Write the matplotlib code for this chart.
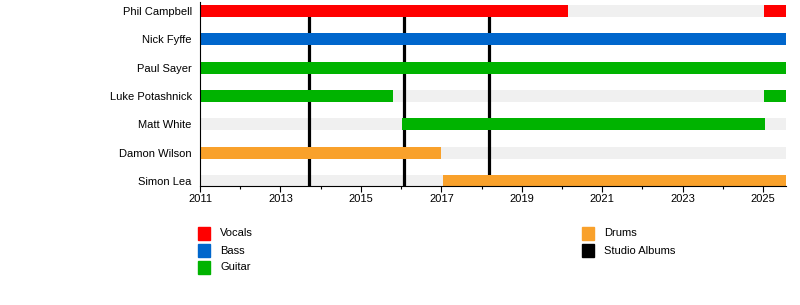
import matplotlib.pyplot as plt
from matplotlib.patches import Rectangle

plt.rcParams['font.family'] = ['Liberation Sans', 'DejaVu Sans']

# band members, top to bottom
members = ["Phil Campbell", "Nick Fyffe", "Paul Sayer", "Luke Potashnick",
           "Matt White", "Damon Wilson", "Simon Lea"]

# membership spans: member, role, start, end (decimal years)
seg_member = ["Phil Campbell", "Phil Campbell", "Nick Fyffe", "Paul Sayer",
              "Luke Potashnick", "Luke Potashnick", "Matt White",
              "Damon Wilson", "Simon Lea"]
seg_role = ["Vocals", "Vocals", "Bass", "Guitar", "Guitar", "Guitar",
            "Guitar", "Drums", "Drums"]
seg_start = [2011.0, 2025.03, 2011.0, 2011.0, 2011.0, 2025.03, 2016.03,
             2011.0, 2017.05]
seg_end = [2020.15, 2025.57, 2025.57, 2025.57, 2015.8, 2025.57, 2025.05,
           2016.99, 2025.57]

album_dates = [2013.71, 2016.07, 2018.19]

start_year, end_year = 2011.0, 2025.57

role_colors = {"Vocals": "#ff0000", "Bass": "#0066cc", "Guitar": "#00b300",
               "Drums": "#f9a12b", "Studio Albums": "#000000"}

fig = plt.figure(figsize=(8, 3.05), dpi=100)
ax = fig.add_axes([200 / 800, 1 - 186 / 305, 586 / 800, 184 / 305])

n = len(members)
row = {m: n - 1 - i for i, m in enumerate(members)}
bar_h = 0.424

# grey background bars
for m in members:
    ax.barh(row[m], end_year - start_year, left=start_year, height=bar_h,
            color="#f0f0f0", zorder=1)

# studio albums
ax.vlines(album_dates, -0.2, n - 1, colors="black", linewidth=2.3, zorder=2)

# membership bars
for m, r, s, e in zip(seg_member, seg_role, seg_start, seg_end):
    ax.barh(row[m], e - s, left=s, height=bar_h, color=role_colors[r], zorder=3)

ax.set_xlim(start_year, end_year)
ax.set_ylim(-0.18, 6.32)
ax.set_xticks(range(2011, 2026, 2))
ax.set_xticks(range(2012, 2026, 2), minor=True)
ax.tick_params(axis="x", which="major", length=4, width=0.8, labelsize=8, pad=2)
ax.tick_params(axis="x", which="minor", length=2.5, width=0.8)
ax.set_yticks([row[m] for m in members])
ax.set_yticklabels(members, fontsize=8)
ax.tick_params(axis="y", length=0, pad=6)
for side in ["top", "right"]:
    ax.spines[side].set_visible(False)
for side in ["left", "bottom"]:
    ax.spines[side].set_linewidth(0.8)
    ax.spines[side].set_zorder(4)

# legend, drawn by hand in two columns
legend_cols = [["Vocals", "Bass", "Guitar"], ["Drums", "Studio Albums"]]
col_x = [198, 582]
for col, x0 in zip(legend_cols, col_x):
    for j, label in enumerate(col):
        y_top = 227 + j * 17
        fig.add_artist(Rectangle((x0 / 800, 1 - (y_top + 13) / 305),
                                 12 / 800, 13 / 305,
                                 color=role_colors[label],
                                 transform=fig.transFigure))
        fig.text((x0 + 22) / 800, 1 - (y_top + 6.5) / 305, label,
                 fontsize=8, va="center", ha="left")

fig.savefig("out.png", dpi=100)
